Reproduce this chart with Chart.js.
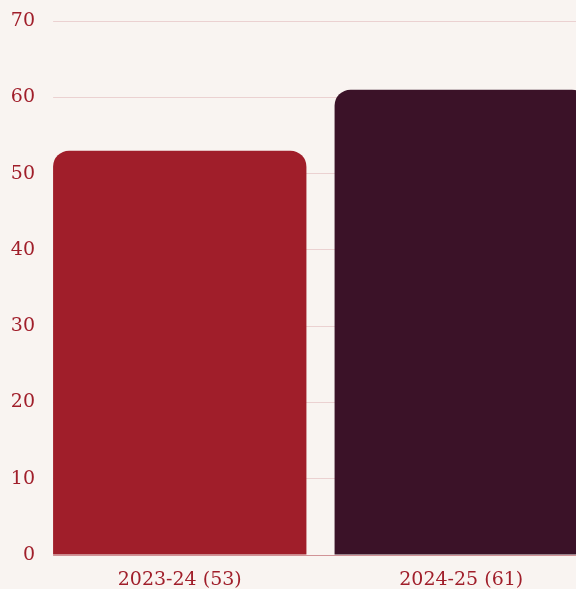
<!DOCTYPE html>
<html>
<head>
<meta charset="utf-8">
<script src="https://cdn.jsdelivr.net/npm/chart.js@4.4.1/dist/chart.umd.min.js"></script>
<style>
  html, body { margin: 0; padding: 0; background: #f9f4f1; overflow: hidden; }
  #wrap { width: 602px; height: 589px; position: relative; }
</style>
</head>
<body>
<div id="wrap"><canvas id="myChart"></canvas></div>
<script>
// data
const seasons = ["2023-24", "2024-25"];
const values = [53, 61];
const barColors = ["#a01e2a", "#3b1228"];
const yTicks = [0, 10, 20, 30, 40, 50, 60, 70];

const bg = "#f9f4f1";
const red = "#a01e2a";

const labels = seasons.map((s, i) => `${s} (${values[i]})`);

// hides the grid lines left of the first bar, like the reference
const leftMask = {
  id: "leftMask",
  beforeDatasetsDraw(chart) {
    const meta = chart.getDatasetMeta(0);
    const first = meta.data[0];
    if (!first) return;
    const area = chart.chartArea;
    const edge = first.x - first.width / 2;
    const ctx = chart.ctx;
    ctx.save();
    ctx.fillStyle = bg;
    ctx.fillRect(area.left - 1, area.top - 2, edge - area.left + 1, area.bottom - area.top + 4);
    ctx.restore();
  }
};

const ctx = document.getElementById("myChart").getContext("2d");
const myChart = new Chart(ctx, {
  type: "bar",
  data: {
    labels: labels,
    datasets: [{
      data: values,
      backgroundColor: barColors,
      borderRadius: 16,
      borderSkipped: "start",
      barPercentage: 0.9,
      categoryPercentage: 1.0
    }]
  },
  options: {
    responsive: true,
    maintainAspectRatio: false,
    animation: false,
    layout: { padding: { top: 21, right: 0, bottom: 0, left: 0 } },
    plugins: {
      legend: { display: false },
      tooltip: { enabled: false }
    },
    scales: {
      x: {
        grid: { display: false },
        border: { display: true, color: "rgba(160,30,42,0.35)" },
        ticks: { color: red, padding: 6, font: { family: "DejaVu Serif", size: 19 } },
        afterFit: (scale) => { scale.height = 34; }
      },
      y: {
        min: 0,
        max: 70,
        afterBuildTicks: (scale) => { scale.ticks = yTicks.map(v => ({ value: v })); },
        grid: { color: "rgba(160,30,42,0.16)", drawTicks: false },
        border: { display: false },
        ticks: { color: red, padding: 4, font: { family: "DejaVu Serif", size: 19 } },
        afterFit: (scale) => { scale.width = 39; }
      }
    }
  },
  plugins: [leftMask]
});
</script>
</body>
</html>
